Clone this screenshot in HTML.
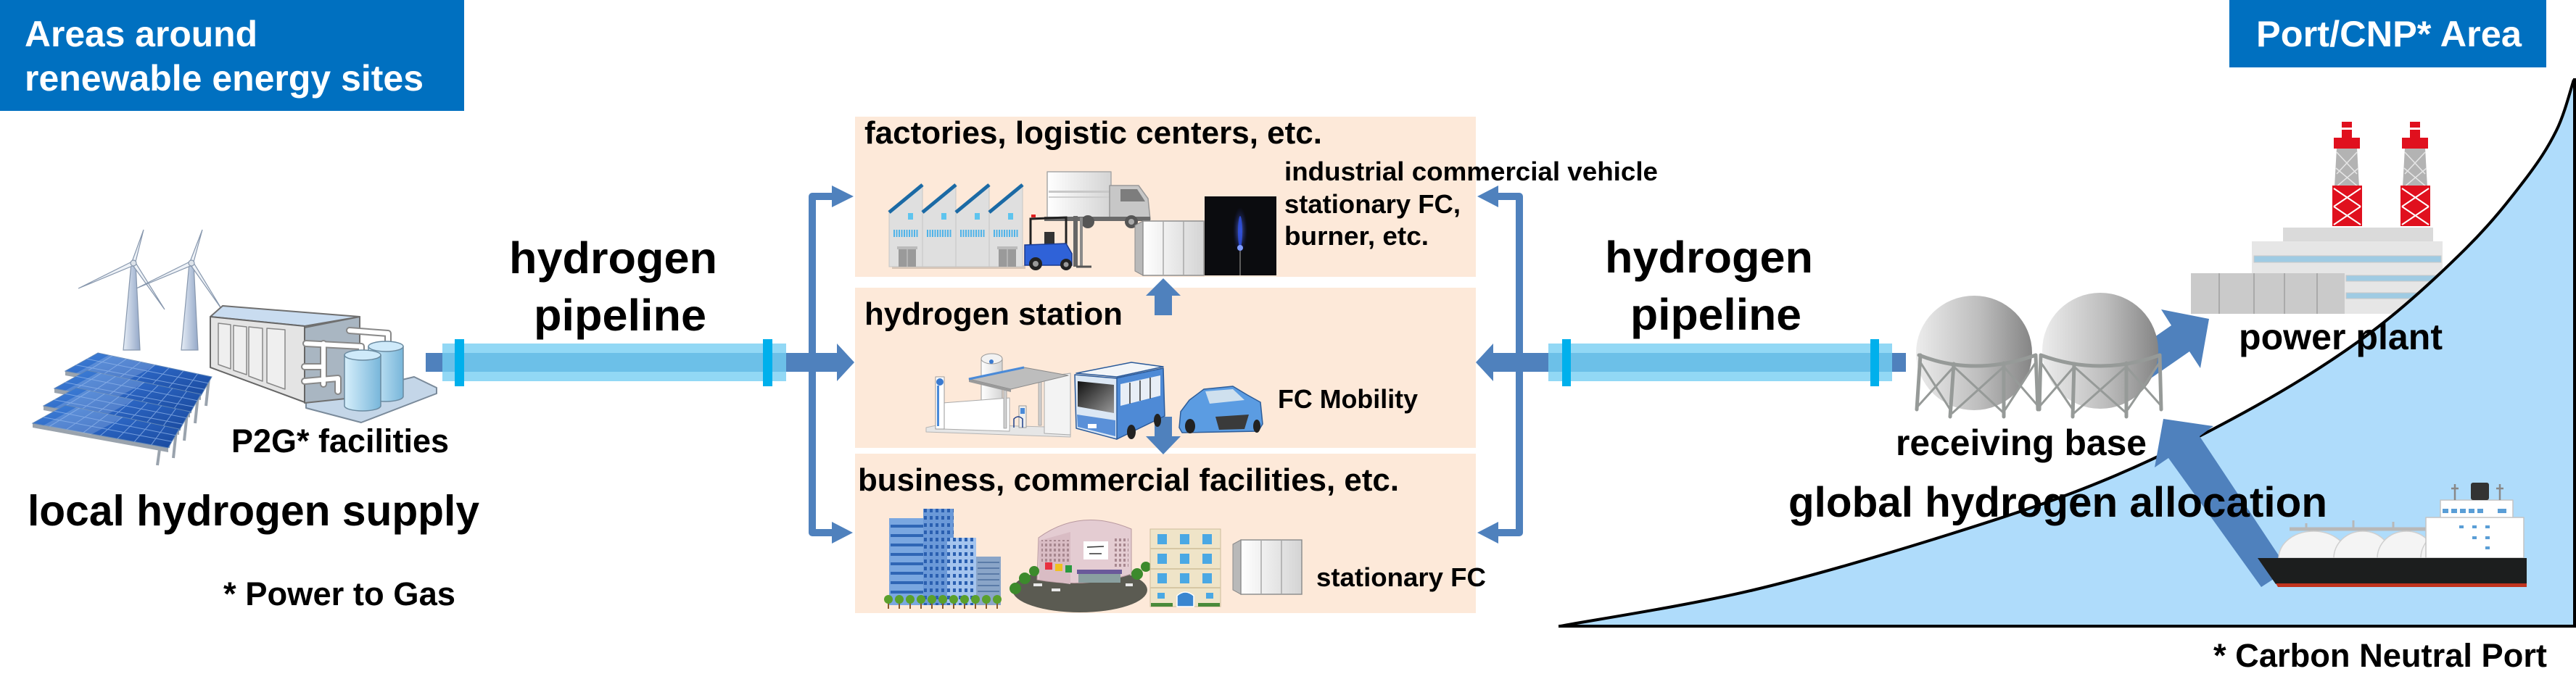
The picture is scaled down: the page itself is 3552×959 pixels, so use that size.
<!DOCTYPE html>
<html>
<head>
<meta charset="utf-8">
<style>
html,body{margin:0;padding:0;background:#fff;}
svg{display:block;}
text{font-family:"Liberation Sans",Arial,sans-serif;font-weight:bold;}
</style>
</head>
<body>
<svg width="3552" height="959" viewBox="0 0 3552 959" xmlns="http://www.w3.org/2000/svg">
<defs>
  <linearGradient id="tower" x1="0" x2="1" y1="0" y2="0">
    <stop offset="0" stop-color="#e6edf6"/><stop offset="1" stop-color="#94a8c8"/>
  </linearGradient>
  <linearGradient id="solar" x1="0" y1="0" x2="1" y2="1">
    <stop offset="0" stop-color="#3f80d8"/><stop offset="0.5" stop-color="#2a63c0"/><stop offset="1" stop-color="#1a4a9e"/>
  </linearGradient>
  <linearGradient id="tank" x1="0" x2="1" y1="0" y2="0">
    <stop offset="0" stop-color="#d6effb"/><stop offset="1" stop-color="#78b6da"/>
  </linearGradient>
  <linearGradient id="white" x1="0" x2="1" y1="0" y2="0">
    <stop offset="0" stop-color="#ffffff"/><stop offset="1" stop-color="#d4d4d4"/>
  </linearGradient>
  <linearGradient id="sphere" x1="0" x2="1" y1="0" y2="0">
    <stop offset="0" stop-color="#ececec"/><stop offset="0.55" stop-color="#bdbdbd"/><stop offset="1" stop-color="#858585"/>
  </linearGradient>
  <linearGradient id="wind" x1="0" x2="1" y1="0" y2="1">
    <stop offset="0" stop-color="#111"/><stop offset="1" stop-color="#999"/>
  </linearGradient>
  <radialGradient id="flame" cx="0.5" cy="0.5" r="0.5">
    <stop offset="0" stop-color="#6f8cff"/><stop offset="1" stop-color="#1a2a9a" stop-opacity="0"/>
  </radialGradient>
  <pattern id="winA" width="8" height="10" patternUnits="userSpaceOnUse">
    <rect x="2" y="2" width="4" height="5" fill="#2a5fb0"/>
  </pattern>
  <pattern id="winB" width="7" height="9" patternUnits="userSpaceOnUse">
    <rect x="1.5" y="2" width="3" height="5" fill="#ffffff" opacity="0.85"/>
  </pattern>
  <pattern id="winC" width="6" height="7" patternUnits="userSpaceOnUse">
    <rect x="1" y="1" width="3" height="4" fill="#a88890"/>
  </pattern>
  <g id="fcbox">
    <polygon points="0,8 11,2 11,77 0,71" fill="#b9b9b9" stroke="#8a8a8a" stroke-width="1"/>
    <rect x="11" y="2" width="84" height="75" fill="url(#white)" stroke="#8f8f8f" stroke-width="1.5"/>
    <line x1="39" y1="3" x2="39" y2="76" stroke="#a8a8a8" stroke-width="1.5"/>
    <line x1="67" y1="3" x2="67" y2="76" stroke="#a8a8a8" stroke-width="1.5"/>
  </g>
</defs>

<!-- ===== headers ===== -->
<rect x="0" y="0" width="640" height="153" fill="#0070c0"/>
<text x="34" y="64" font-size="50" fill="#fff" textLength="321" lengthAdjust="spacingAndGlyphs">Areas around</text>
<text x="34" y="125" font-size="50" fill="#fff" textLength="550" lengthAdjust="spacingAndGlyphs">renewable energy sites</text>
<rect x="3074" y="0" width="437" height="93" fill="#0070c0"/>
<text x="3111" y="64" font-size="50" fill="#fff" textLength="366" lengthAdjust="spacingAndGlyphs">Port/CNP* Area</text>

<!-- ===== left: wind turbines ===== -->
<g stroke="#8797ad" stroke-width="1.2">
  <polygon points="181,363 187,363 193,483 170,483" fill="url(#tower)"/>
  <polygon points="182,361 186,365 198,317" fill="#eef2f7"/>
  <polygon points="182,361 185,366 108,398" fill="#eef2f7"/>
  <polygon points="183,366 186,361 227,427" fill="#eef2f7"/>
  <circle cx="184" cy="363" r="4" fill="#dde3ea"/>
  <polygon points="261,363 267,363 273,483 250,483" fill="url(#tower)"/>
  <polygon points="262,361 266,365 279,317" fill="#eef2f7"/>
  <polygon points="262,361 265,366 188,398" fill="#eef2f7"/>
  <polygon points="263,366 266,361 306,427" fill="#eef2f7"/>
  <circle cx="264" cy="363" r="4" fill="#dde3ea"/>
</g>

<!-- ===== left: solar panels ===== -->
<g id="panel0">
  <line x1="265" y1="548" x2="262" y2="570" stroke="#9aa3ad" stroke-width="4"/>
  <line x1="288" y1="522" x2="284" y2="560" stroke="#9aa3ad" stroke-width="4"/>
  <polygon points="90,512 277,546 277,552 90,518" fill="#9aa3ad"/>
  <polygon points="135,487 292,520 277,546 90,512" fill="url(#solar)" stroke="#5f86b8" stroke-width="1"/>
  <polygon points="150,490 215,504 170,528 105,515" fill="#ffffff" opacity="0.18"/>
  <g stroke="#8fb4ea" stroke-width="1" opacity="0.75">
    <line x1="154.6" y1="491.1" x2="113.4" y2="516.3"/>
    <line x1="174.3" y1="495.3" x2="136.8" y2="520.5"/>
    <line x1="193.9" y1="499.4" x2="160.1" y2="524.8"/>
    <line x1="213.5" y1="503.5" x2="183.5" y2="529"/>
    <line x1="233.1" y1="507.6" x2="206.9" y2="533.3"/>
    <line x1="252.8" y1="511.8" x2="230.3" y2="537.5"/>
    <line x1="272.4" y1="515.9" x2="253.6" y2="541.8"/>
    <line x1="120" y1="495.3" x2="287" y2="528.7"/>
    <line x1="105" y1="503.7" x2="282" y2="537.3"/>
  </g>
</g>
<use href="#panel0" transform="translate(-15,24)"/>
<use href="#panel0" transform="translate(-30,48)"/>
<use href="#panel0" transform="translate(-45,72)"/>

<!-- ===== left: P2G facility ===== -->
<g stroke-linejoin="round">
  <polygon points="422,556 571,520 602,535 602,543 498,583 422,563" fill="#c4d6e8" stroke="#7a8a9a" stroke-width="2"/>
  <polygon points="420,452 496,437 496,548 420,556" fill="#a9b6c2" stroke="#6f6f6f" stroke-width="2"/>
  <polygon points="290,437 307,422 496,437 420,450" fill="#c9dcf0" stroke="#6f6f6f" stroke-width="2"/>
  <polygon points="290,437 420,450 420,555 290,507" fill="#e4e4e4" stroke="#666" stroke-width="2"/>
  <g fill="#efefef" stroke="#888" stroke-width="1.5">
    <polygon points="301,446 318,448 318,509 301,503"/>
    <polygon points="322,449 340,451 340,517 322,511"/>
    <polygon points="343,451 362,453 362,526 343,519"/>
    <polygon points="368,453 393,455 393,537 368,528"/>
  </g>
  <g fill="none" stroke-linecap="round">
    <g stroke="#888" stroke-width="10">
      <polyline points="482,456 535,460 535,478"/>
      <polyline points="422,474 498,478 498,492"/>
      <polyline points="446,474 446,530"/>
      <polyline points="420,506 446,506"/>
      <polyline points="420,526 466,522 466,540"/>
    </g>
    <g stroke="#fff" stroke-width="6">
      <polyline points="482,456 535,460 535,478"/>
      <polyline points="422,474 498,478 498,492"/>
      <polyline points="446,474 446,530"/>
      <polyline points="420,506 446,506"/>
      <polyline points="420,526 466,522 466,540"/>
    </g>
  </g>
  <path d="M508,478 L508,547 A24,7 0 0 0 556,547 L556,478 Z" fill="url(#tank)" stroke="#6a8aa0" stroke-width="1.5"/>
  <ellipse cx="532" cy="478" rx="24" ry="7" fill="#cfeafa" stroke="#6a8aa0" stroke-width="1.5"/>
  <path d="M475,490 L475,560 A25,7 0 0 0 525,560 L525,490 Z" fill="url(#tank)" stroke="#6a8aa0" stroke-width="1.5"/>
  <ellipse cx="500" cy="490" rx="25" ry="7" fill="#cfeafa" stroke="#6a8aa0" stroke-width="1.5"/>
</g>

<text x="319" y="624" font-size="45" fill="#000" textLength="300" lengthAdjust="spacingAndGlyphs">P2G* facilities</text>
<text x="38" y="725" font-size="59" fill="#000" textLength="623" lengthAdjust="spacingAndGlyphs">local hydrogen supply</text>
<text x="308" y="835" font-size="45" fill="#000" textLength="320" lengthAdjust="spacingAndGlyphs">* Power to Gas</text>

<!-- ===== left pipeline ===== -->
<rect x="587" y="487" width="568" height="26" fill="#4f81bd"/>
<polygon points="1154,474 1178,500 1154,526" fill="#4f81bd"/>
<rect x="610" y="474" width="474" height="52" fill="#92d8f5"/>
<rect x="610" y="487" width="474" height="26" fill="#6cc0e8"/>
<rect x="627" y="468" width="13" height="65" fill="#00b0ec"/>
<rect x="1052" y="468" width="13" height="65" fill="#00b0ec"/>
<text x="702" y="377" font-size="61" fill="#000" textLength="287" lengthAdjust="spacingAndGlyphs">hydrogen</text>
<text x="736" y="456" font-size="61" fill="#000" textLength="238" lengthAdjust="spacingAndGlyphs">pipeline</text>

<!-- branch left -->
<polyline points="1147,271 1120,271 1120,735 1147,735" fill="none" stroke="#4f81bd" stroke-width="10" stroke-linejoin="round"/>
<polygon points="1147,256 1177,271 1147,286" fill="#4f81bd"/>
<polygon points="1147,720 1176,735 1147,750" fill="#4f81bd"/>

<!-- ===== middle panels ===== -->
<rect x="1179" y="161" width="856" height="221" fill="#fde9d9"/>
<rect x="1179" y="397" width="856" height="221" fill="#fde9d9"/>
<rect x="1179" y="626" width="856" height="220" fill="#fde9d9"/>

<!-- branch right -->
<polyline points="2066,271 2095,271 2095,735 2066,735" fill="none" stroke="#4f81bd" stroke-width="10" stroke-linejoin="round"/>
<polygon points="2066,256 2037,271 2066,286" fill="#4f81bd"/>
<polygon points="2066,720 2037,735 2066,750" fill="#4f81bd"/>

<!-- right pipeline -->
<rect x="2059" y="487" width="569" height="26" fill="#4f81bd"/>
<polygon points="2059,474 2035,500 2059,526" fill="#4f81bd"/>
<rect x="2135" y="474" width="474" height="52" fill="#92d8f5"/>
<rect x="2135" y="487" width="474" height="26" fill="#6cc0e8"/>
<rect x="2154" y="468" width="12" height="65" fill="#00b0ec"/>
<rect x="2579" y="468" width="12" height="65" fill="#00b0ec"/>
<text x="2213" y="376" font-size="61" fill="#000" textLength="287" lengthAdjust="spacingAndGlyphs">hydrogen</text>
<text x="2248" y="455" font-size="61" fill="#000" textLength="236" lengthAdjust="spacingAndGlyphs">pipeline</text>

<!-- vertical arrows -->
<rect x="1592" y="407" width="24" height="28" fill="#4f81bd"/>
<polygon points="1580,408 1604,384 1628,408" fill="#4f81bd"/>
<rect x="1592" y="575" width="24" height="28" fill="#4f81bd"/>
<polygon points="1580,602 1604,627 1628,602" fill="#4f81bd"/>

<!-- top panel content -->
<text x="1192" y="198" font-size="44" fill="#000" textLength="631" lengthAdjust="spacingAndGlyphs">factories, logistic centers, etc.</text>
<text x="1771" y="249" font-size="36" fill="#000" textLength="515" lengthAdjust="spacingAndGlyphs">industrial commercial vehicle</text>
<text x="1771" y="294" font-size="36" fill="#000" textLength="243" lengthAdjust="spacingAndGlyphs">stationary FC,</text>
<text x="1771" y="338" font-size="36" fill="#000" textLength="199" lengthAdjust="spacingAndGlyphs">burner, etc.</text>

<!-- factory -->
<rect x="1230" y="366" width="184" height="5" fill="#bfae9e" opacity="0.6"/>
<g>
  <g id="fu">
    <polygon points="1226,293 1272,255 1272,368 1226,368" fill="#dfdfdf" stroke="#c6c6c6" stroke-width="1"/>
    <line x1="1226" y1="293" x2="1272" y2="255" stroke="#1b6aa5" stroke-width="5"/>
    <polygon points="1252,294 1259,294 1259,303 1252,303" fill="#5ec4ee"/>
    <line x1="1232" y1="322" x2="1266" y2="322" stroke="#4fb3e8" stroke-width="10" stroke-dasharray="2 1.5"/>
  </g>
  <use href="#fu" transform="translate(46,0)"/>
  <use href="#fu" transform="translate(92,0)"/>
  <use href="#fu" transform="translate(138,0)"/>
  <rect x="1237" y="340" width="28" height="4" fill="#bbbbbb"/>
  <rect x="1239" y="344" width="24" height="24" fill="#9a9a9a"/>
  <line x1="1251" y1="344" x2="1251" y2="368" stroke="#bdbdbd" stroke-width="1.5"/>
  <rect x="1375" y="340" width="28" height="4" fill="#bbbbbb"/>
  <rect x="1377" y="344" width="24" height="24" fill="#9a9a9a"/>
  <line x1="1389" y1="344" x2="1389" y2="368" stroke="#bdbdbd" stroke-width="1.5"/>
</g>

<!-- truck -->
<g stroke-linejoin="round">
  <rect x="1444" y="237" width="88" height="66" fill="url(#white)" stroke="#a8a8a8" stroke-width="1.5"/>
  <rect x="1446" y="263" width="84" height="3" fill="#c8c8c8"/>
  <rect x="1446" y="271" width="84" height="2" fill="#cfcfcf"/>
  <polygon points="1530,256 1570,256 1583,274 1586,303 1530,303" fill="#c7c7c7" stroke="#999" stroke-width="1.5"/>
  <polygon points="1545,261 1568,261 1579,278 1545,278" fill="#7d7d7d"/>
  <rect x="1440" y="299" width="146" height="6" fill="#6a6a6a"/>
  <circle cx="1500" cy="306" r="9" fill="#555"/>
  <circle cx="1560" cy="306" r="9" fill="#555"/>
  <circle cx="1560" cy="306" r="4" fill="#aaa"/>
</g>

<!-- forklift -->
<g>
  <rect x="1480" y="298" width="6" height="70" fill="#666"/>
  <rect x="1489" y="300" width="4" height="68" fill="#8a8a8a"/>
  <polyline points="1421,340 1421,302 1470,300 1470,340" fill="none" stroke="#222" stroke-width="3"/>
  <rect x="1422" y="296" width="6" height="4" fill="#e02020"/>
  <rect x="1440" y="320" width="14" height="18" fill="#333"/>
  <polygon points="1413,338 1470,336 1478,350 1478,366 1413,366" fill="#2f62d8" stroke="#1a3a90" stroke-width="1.5"/>
  <circle cx="1428" cy="364" r="9" fill="#222"/><circle cx="1428" cy="364" r="4" fill="#999"/>
  <circle cx="1470" cy="365" r="8" fill="#222"/><circle cx="1470" cy="365" r="3.5" fill="#999"/>
  <line x1="1484" y1="368" x2="1505" y2="368" stroke="#555" stroke-width="3"/>
</g>

<use href="#fcbox" transform="translate(1565,303)"/>

<!-- burner photo -->
<rect x="1661" y="271" width="99" height="109" fill="#0b0c0f"/>
<ellipse cx="1710" cy="318" rx="10" ry="32" fill="url(#flame)" opacity="0.7"/>
<ellipse cx="1710" cy="320" rx="3" ry="22" fill="#2f50e0" opacity="0.85"/>
<ellipse cx="1710" cy="342" rx="4" ry="4" fill="#7f9cff"/>
<line x1="1710" y1="346" x2="1710" y2="380" stroke="#777" stroke-width="1.5"/>

<!-- middle panel content -->
<text x="1192" y="448" font-size="44" fill="#000" textLength="356" lengthAdjust="spacingAndGlyphs">hydrogen station</text>
<text x="1762" y="563" font-size="36" fill="#000" textLength="193" lengthAdjust="spacingAndGlyphs">FC Mobility</text>

<!-- hydrogen station -->
<g stroke-linejoin="round">
  <polygon points="1277,590 1300,585 1476,590 1476,603 1277,596" fill="#e6e6e6" stroke="#b5b5b5" stroke-width="1"/>
  <polygon points="1440,520 1476,515 1476,600 1440,598" fill="#f3f3f3" stroke="#aaa" stroke-width="1"/>
  <rect x="1353" y="495" width="29" height="62" fill="url(#white)" stroke="#999" stroke-width="1"/>
  <ellipse cx="1367.5" cy="495" rx="14.5" ry="7" fill="#f2f2f2" stroke="#999" stroke-width="1"/>
  <line x1="1353" y1="521" x2="1382" y2="521" stroke="#4a90d9" stroke-width="2"/>
  <circle cx="1367" cy="499" r="3" fill="#3a7ad0"/>
  <polygon points="1300,556 1392,549 1392,595 1300,592" fill="#fff" stroke="#aaa" stroke-width="1"/>
  <rect x="1384" y="533" width="4" height="58" fill="#d0d0d0" stroke="#999" stroke-width="0.8"/>
  <rect x="1432" y="527" width="4" height="60" fill="#d0d0d0" stroke="#999" stroke-width="0.8"/>
  <rect x="1405" y="560" width="10" height="30" fill="#eee" stroke="#999" stroke-width="1"/>
  <rect x="1407" y="563" width="6" height="8" fill="#4a8ad8"/>
  <path d="M1398,590 L1398,578 Q1404,572 1410,578 L1410,590" fill="none" stroke="#1d3f8a" stroke-width="1.5"/>
  <polygon points="1336,523 1412,507 1473,518 1394,537" fill="#bdbdbd" stroke="#8a8a8a" stroke-width="1"/>
  <polygon points="1336,523 1394,537 1394,541 1336,527" fill="#9a9a9a"/>
  <line x1="1336" y1="523" x2="1412" y2="507" stroke="#4a8ad8" stroke-width="3"/>
  <rect x="1290" y="520" width="12" height="72" fill="#fff" stroke="#999" stroke-width="1"/>
  <rect x="1292" y="532" width="3" height="56" fill="#4a8ad8"/>
  <circle cx="1296" cy="527" r="5" fill="#3a7ad0"/>
</g>

<!-- bus -->
<g stroke-linejoin="round">
  <polygon points="1538,522 1604,508 1606,574 1540,606" fill="#4e8ad6" stroke="#2a5a9a" stroke-width="1.5"/>
  <polygon points="1545,530 1600,518 1600,546 1545,560" fill="#e8eef6"/>
  <g stroke="#333" stroke-width="1.5">
    <line x1="1558" y1="528" x2="1558" y2="557"/><line x1="1572" y1="525" x2="1572" y2="553"/><line x1="1586" y1="521" x2="1586" y2="550"/>
  </g>
  <polygon points="1484,515 1540,520 1604,506 1560,500" fill="#f2f5f8" stroke="#2a5a9a" stroke-width="1.5"/>
  <polygon points="1482,517 1540,522 1540,606 1484,591" fill="#dbe7f4" stroke="#2a5a9a" stroke-width="1.5"/>
  <polygon points="1486,526 1536,531 1536,570 1486,561" fill="url(#wind)"/>
  <polygon points="1485,572 1538,580 1538,602 1486,589" fill="#5a90d8"/>
  <rect x="1500" y="585" width="12" height="6" fill="#fff"/>
  <ellipse cx="1560" cy="596" rx="6" ry="10" fill="#222"/>
  <ellipse cx="1596" cy="580" rx="5" ry="9" fill="#222"/>
</g>

<!-- car -->
<g stroke-linejoin="round">
  <path d="M1626,590 L1628,568 L1640,552 L1660,537 L1700,533 L1720,545 L1738,555 L1741,585 L1735,595 L1630,597 Z" fill="#5b9ce2" stroke="#2e5d99" stroke-width="1.5"/>
  <polygon points="1662,540 1700,537 1716,552 1668,557" fill="#cfe0ee"/>
  <polygon points="1676,575 1722,572 1716,592 1681,593" fill="#3a3a3a"/>
  <ellipse cx="1641" cy="588" rx="7" ry="10" fill="#222"/>
  <ellipse cx="1733" cy="588" rx="5" ry="9" fill="#222"/>
</g>

<!-- bottom panel content -->
<text x="1183" y="677" font-size="44" fill="#000" textLength="746" lengthAdjust="spacingAndGlyphs">business, commercial facilities, etc.</text>
<text x="1815" y="809" font-size="36" fill="#000" textLength="234" lengthAdjust="spacingAndGlyphs">stationary FC</text>

<!-- office buildings -->
<g>
  <rect x="1226" y="715" width="62" height="120" fill="#7aa7e0"/>
  <g fill="#2f66b5">
    <rect x="1228" y="724" width="58" height="4"/><rect x="1228" y="737" width="58" height="4"/>
    <rect x="1228" y="750" width="58" height="4"/><rect x="1228" y="763" width="58" height="4"/>
    <rect x="1228" y="776" width="58" height="4"/><rect x="1228" y="789" width="58" height="4"/>
    <rect x="1228" y="802" width="58" height="4"/><rect x="1228" y="815" width="58" height="4"/>
  </g>
  <rect x="1273" y="702" width="42" height="133" fill="#6b99d8"/>
  <rect x="1273" y="702" width="42" height="133" fill="url(#winA)"/>
  <rect x="1306" y="742" width="40" height="93" fill="#a4c4ee"/>
  <rect x="1306" y="742" width="40" height="93" fill="url(#winA)"/>
  <rect x="1346" y="768" width="34" height="67" fill="#8aa5c8"/>
  <g fill="#5a7ba8"><rect x="1348" y="775" width="30" height="2"/><rect x="1348" y="783" width="30" height="2"/><rect x="1348" y="791" width="30" height="2"/><rect x="1348" y="799" width="30" height="2"/><rect x="1348" y="807" width="30" height="2"/><rect x="1348" y="815" width="30" height="2"/></g>
  <g fill="#8a5a2a"><rect x="1224" y="828" width="2" height="12"/><rect x="1239" y="828" width="2" height="12"/><rect x="1254" y="828" width="2" height="12"/><rect x="1269" y="828" width="2" height="12"/><rect x="1284" y="828" width="2" height="12"/><rect x="1299" y="828" width="2" height="12"/><rect x="1314" y="828" width="2" height="12"/><rect x="1329" y="828" width="2" height="12"/><rect x="1344" y="828" width="2" height="12"/><rect x="1359" y="828" width="2" height="12"/><rect x="1374" y="828" width="2" height="12"/></g>
  <g fill="#5aa02c"><circle cx="1225" cy="827" r="6"/><circle cx="1240" cy="827" r="6"/><circle cx="1255" cy="827" r="6"/><circle cx="1270" cy="827" r="6"/><circle cx="1285" cy="827" r="6"/><circle cx="1300" cy="827" r="6"/><circle cx="1315" cy="827" r="6"/><circle cx="1330" cy="827" r="6"/><circle cx="1345" cy="827" r="6"/><circle cx="1360" cy="827" r="6"/><circle cx="1375" cy="827" r="6"/></g>
</g>

<!-- shopping center -->
<g>
  <ellipse cx="1489" cy="814" rx="93" ry="31" fill="#5b5b52"/>
  <path d="M1430,800 L1432,742 Q1490,700 1560,730 L1560,792 Q1500,812 1430,800 Z" fill="#e4ccd2" stroke="#b8989f" stroke-width="1"/>
  <polygon points="1433,746 1476,734 1476,806 1433,800" fill="#d9bcc4"/>
  <rect x="1436" y="745" width="38" height="30" fill="url(#winC)"/>
  <rect x="1536" y="742" width="20" height="40" fill="url(#winC)"/>
  <rect x="1494" y="747" width="34" height="25" fill="#fff"/>
  <g stroke="#333" stroke-width="1.5"><line x1="1499" y1="755" x2="1522" y2="754"/><line x1="1502" y1="764" x2="1519" y2="764"/></g>
  <rect x="1441" y="776" width="10" height="10" fill="#e83040"/>
  <rect x="1455" y="778" width="10" height="10" fill="#f0c020"/>
  <rect x="1469" y="780" width="9" height="10" fill="#2a9a40"/>
  <rect x="1485" y="786" width="62" height="6" fill="#6a5a9a"/>
  <rect x="1487" y="792" width="58" height="12" fill="#8aa0a0"/>
  <g fill="#3c8a2c"><circle cx="1400" cy="812" r="8"/><circle cx="1413" cy="798" r="8"/><circle cx="1426" cy="788" r="7"/><circle cx="1568" cy="792" r="8"/><circle cx="1580" cy="782" r="7"/></g>
  <g fill="#e8e8e8"><rect x="1425" y="805" width="12" height="4"/><rect x="1450" y="812" width="12" height="4"/><rect x="1552" y="805" width="10" height="4"/></g>
</g>

<!-- apartment -->
<g>
  <rect x="1586" y="730" width="97" height="107" fill="#efe4c8" stroke="#cdbd9c" stroke-width="1"/>
  <g stroke="#d6c7a4" stroke-width="2"><line x1="1586" y1="757" x2="1683" y2="757"/><line x1="1586" y1="785" x2="1683" y2="785"/><line x1="1586" y1="811" x2="1683" y2="811"/></g>
  <g fill="#4aa8e4">
    <rect x="1596" y="737" width="13" height="14"/><rect x="1627" y="737" width="13" height="14"/><rect x="1658" y="737" width="13" height="14"/>
    <rect x="1596" y="764" width="13" height="14"/><rect x="1627" y="764" width="13" height="14"/><rect x="1658" y="764" width="13" height="14"/>
    <rect x="1596" y="791" width="13" height="14"/><rect x="1627" y="791" width="13" height="14"/><rect x="1658" y="791" width="13" height="14"/>
    <rect x="1596" y="818" width="10" height="8"/><rect x="1663" y="818" width="10" height="8"/>
  </g>
  <path d="M1623,837 L1623,822 Q1634,812 1646,822 L1646,837 Z" fill="#3a86d0" stroke="#fff" stroke-width="1.5"/>
  <rect x="1587" y="832" width="30" height="5" fill="#4a8a3a"/><rect x="1652" y="832" width="30" height="5" fill="#4a8a3a"/>
</g>

<use href="#fcbox" transform="translate(1700,743)"/>

<!-- ===== right side ===== -->
<!-- power plant (behind sea fill) -->
<g>
  <g id="stack">
    <rect x="3229" y="168" width="14" height="24" fill="#e0101e"/>
    <rect x="3226" y="176" width="20" height="3" fill="#fff"/>
    <polygon points="3222,204 3250,204 3256,312 3216,312" fill="#b3b3b3"/>
    <g stroke="#e6e6e6" stroke-width="1.5"><line x1="3222" y1="210" x2="3250" y2="240"/><line x1="3250" y1="210" x2="3222" y2="240"/><line x1="3221" y1="232" x2="3252" y2="258"/><line x1="3252" y1="232" x2="3221" y2="258"/></g>
    <rect x="3218" y="190" width="36" height="15" fill="#e0101e"/>
    <rect x="3216" y="256" width="41" height="56" fill="#e0101e"/>
    <g stroke="#fff" stroke-width="2"><line x1="3218" y1="260" x2="3255" y2="285"/><line x1="3255" y1="260" x2="3218" y2="285"/><line x1="3218" y1="285" x2="3255" y2="310"/><line x1="3255" y1="285" x2="3218" y2="310"/></g>
  </g>
  <use href="#stack" transform="translate(94,0)"/>
  <rect x="3148" y="314" width="207" height="22" fill="#dadada"/>
  <rect x="3105" y="333" width="263" height="100" fill="#e6e6e6"/>
  <g fill="#9fcbe3" stroke="#c8c8c8" stroke-width="1">
    <rect x="3108" y="353" width="258" height="9"/>
    <rect x="3235" y="380" width="131" height="8"/>
    <rect x="3235" y="404" width="131" height="8"/>
  </g>
  <rect x="3021" y="377" width="212" height="56" fill="#cacaca"/>
  <g stroke="#aaa" stroke-width="2"><line x1="3060" y1="377" x2="3060" y2="433"/><line x1="3108" y1="377" x2="3108" y2="433"/><line x1="3150" y1="377" x2="3150" y2="433"/><line x1="3195" y1="377" x2="3195" y2="433"/></g>
</g>

<!-- sea fill + curve -->
<path d="M2151,864 C2194.8,855.8 2324.3,836.2 2414,815 C2503.7,793.8 2606.7,762.8 2689,737 C2771.3,711.2 2837.7,689.5 2908,660 C2978.3,630.5 3050.7,593.7 3111,560 C3171.3,526.3 3221.8,494.2 3270,458 C3318.2,421.8 3365,377.7 3400,343 C3435,308.3 3459.2,277.2 3480,250 C3500.8,222.8 3513.5,203.3 3525,180 C3536.5,156.7 3545,121.7 3549,110 L3550,110 L3550,864 Z" fill="#afdcfb"/>
<path d="M2151,864 C2194.8,855.8 2324.3,836.2 2414,815 C2503.7,793.8 2606.7,762.8 2689,737 C2771.3,711.2 2837.7,689.5 2908,660 C2978.3,630.5 3050.7,593.7 3111,560 C3171.3,526.3 3221.8,494.2 3270,458 C3318.2,421.8 3365,377.7 3400,343 C3435,308.3 3459.2,277.2 3480,250 C3500.8,222.8 3513.5,203.3 3525,180 C3536.5,156.7 3545,121.7 3549,110" fill="none" stroke="#000" stroke-width="4"/>
<line x1="2149" y1="864" x2="3552" y2="864" stroke="#000" stroke-width="4"/>
<line x1="3550" y1="108" x2="3550" y2="866" stroke="#000" stroke-width="4"/>

<!-- arrow to power plant -->
<polygon points="2896,517 2994,449 2980,427 3046,440 3034,508 3019,485 2921,553" fill="#4f81bd"/>

<!-- spheres -->
<g>
  <ellipse cx="2722" cy="487" rx="80" ry="79" fill="url(#sphere)"/>
  <ellipse cx="2896" cy="484" rx="80" ry="80" fill="url(#sphere)"/>
  <g fill="none" stroke="#969a98" stroke-width="5" stroke-linecap="round">
    <path d="M2646,490 Q2722,520 2807,490"/>
    <line x1="2648" y1="490" x2="2643" y2="565"/><line x1="2694" y1="502" x2="2689" y2="575"/>
    <line x1="2763" y1="501" x2="2763" y2="575"/><line x1="2807" y1="490" x2="2810" y2="565"/>
    <g stroke-width="3"><line x1="2648" y1="500" x2="2689" y2="565"/><line x1="2694" y1="506" x2="2645" y2="560"/>
    <line x1="2694" y1="506" x2="2763" y2="570"/><line x1="2763" y1="506" x2="2692" y2="570"/>
    <line x1="2763" y1="506" x2="2810" y2="560"/><line x1="2807" y1="500" x2="2765" y2="565"/></g>
    <path d="M2814,490 Q2896,520 2978,490"/>
    <line x1="2814" y1="490" x2="2812" y2="565"/><line x1="2860" y1="502" x2="2858" y2="575"/>
    <line x1="2932" y1="501" x2="2932" y2="575"/><line x1="2978" y1="490" x2="2980" y2="565"/>
    <g stroke-width="3"><line x1="2814" y1="500" x2="2858" y2="565"/><line x1="2860" y1="506" x2="2813" y2="560"/>
    <line x1="2860" y1="506" x2="2932" y2="570"/><line x1="2932" y1="506" x2="2860" y2="570"/>
    <line x1="2932" y1="506" x2="2980" y2="560"/><line x1="2978" y1="500" x2="2934" y2="565"/></g>
  </g>
</g>

<!-- arrow from ship -->
<polygon points="2983,578 3052,588 3033,602 3155,786 3118,810 2990,632 2971,645" fill="#4f81bd"/>

<!-- ship -->
<g stroke-linejoin="round">
  <line x1="3157" y1="730" x2="3380" y2="730" stroke="#b8b8b8" stroke-width="5"/>
  <g stroke="#b8b8b8" stroke-width="3"><line x1="3157" y1="745" x2="3157" y2="770"/><line x1="3180" y1="722" x2="3180" y2="732"/><line x1="3245" y1="718" x2="3245" y2="732"/><line x1="3300" y1="720" x2="3300" y2="732"/></g>
  <path d="M3142,770 A48,37 0 0 1 3238,770 Z" fill="#f4f4f4" stroke="#cfcfcf" stroke-width="1.5"/>
  <path d="M3218,770 A40,37 0 0 1 3298,770 Z" fill="#f4f4f4" stroke="#cfcfcf" stroke-width="1.5"/>
  <path d="M3278,770 A40,37 0 0 1 3358,770 Z" fill="#f4f4f4" stroke="#cfcfcf" stroke-width="1.5"/>
  <path d="M3338,770 A38,37 0 0 1 3414,770 Z" fill="#f4f4f4" stroke="#cfcfcf" stroke-width="1.5"/>
  <rect x="3365" y="690" width="100" height="28" fill="#fff" stroke="#c4c4c4" stroke-width="1.5"/>
  <rect x="3345" y="714" width="135" height="56" fill="#fff" stroke="#c4c4c4" stroke-width="1.5"/>
  <g fill="#5a9ed6"><rect x="3368" y="702" width="8" height="6"/><rect x="3380" y="702" width="8" height="6"/><rect x="3392" y="702" width="8" height="6"/><rect x="3404" y="702" width="8" height="6"/><rect x="3416" y="702" width="8" height="6"/><rect x="3444" y="702" width="12" height="6"/>
  <rect x="3391" y="725" width="6" height="4"/><rect x="3409" y="725" width="6" height="4"/><rect x="3427" y="725" width="6" height="4"/>
  <rect x="3409" y="740" width="6" height="4"/><rect x="3427" y="740" width="6" height="4"/><rect x="3427" y="754" width="6" height="4"/></g>
  <rect x="3407" y="666" width="25" height="24" rx="3" fill="#333"/>
  <g stroke="#888" stroke-width="2.5"><line x1="3385" y1="668" x2="3385" y2="690"/><line x1="3380" y1="674" x2="3390" y2="674"/><line x1="3447" y1="668" x2="3447" y2="690"/><line x1="3442" y1="674" x2="3452" y2="674"/></g>
  <polygon points="3113,770 3484,770 3484,806 3138,806" fill="#1c1e1e"/>
  <polygon points="3138,805 3484,805 3484,810 3141,810" fill="#c0341f"/>
</g>

<!-- right texts -->
<text x="2614" y="628" font-size="50" fill="#000" textLength="346" lengthAdjust="spacingAndGlyphs">receiving base</text>
<text x="3087" y="482" font-size="50" fill="#000" textLength="281" lengthAdjust="spacingAndGlyphs">power plant</text>
<text x="2466" y="713" font-size="58" fill="#000" textLength="743" lengthAdjust="spacingAndGlyphs">global hydrogen allocation</text>
<text x="3052" y="920" font-size="45" fill="#000" textLength="460" lengthAdjust="spacingAndGlyphs">* Carbon Neutral Port</text>
</svg>
</body>
</html>
